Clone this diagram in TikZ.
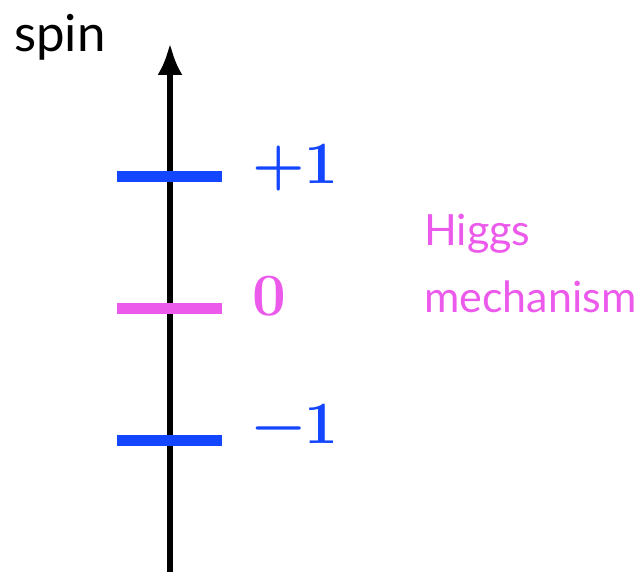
\documentclass[tikz,border=0pt]{standalone}
\usepackage{fontspec}
\newfontfamily\labfont{Lato}
\usetikzlibrary{arrows.meta}
\definecolor{spinblue}{RGB}{20,70,255}
\definecolor{higgspink}{RGB}{236,90,236}
\tikzset{
  bar/.style={line width=11pt},
  numlab/.style={anchor=base west, inner sep=0pt, font=\bfseries\fontsize{60}{60}\selectfont},
  sanslab/.style={anchor=base west, inner sep=0pt, text=#1},
  higgsfont/.style={font=\labfont\fontsize{43}{43}\selectfont},
}
\begin{document}
\begin{tikzpicture}[x=1pt,y=-1pt]
\useasboundingbox (0,0) rectangle (642,572);
% axis
\coordinate (bot) at (170,572);
\coordinate (top) at (170,43);
\draw[line width=6pt, -{Latex[length=32pt,width=25pt]}] (bot) -- (top);
\node[sanslab=black, font=\labfont\fontsize{51}{51}\selectfont] (spin) at (14,52) {spin};
% levels
\coordinate (p1l) at (117,177); \coordinate (p1r) at (222,177);
\coordinate (z0l) at (117,308); \coordinate (z0r) at (222,308);
\coordinate (m1l) at (117,440); \coordinate (m1r) at (222,440);
\draw[bar, spinblue] (p1l) -- (p1r);
\draw[bar, higgspink] (z0l) -- (z0r);
\draw[bar, spinblue] (m1l) -- (m1r);
\node[numlab, text=spinblue] (lp1) at (252,183) {+1};
\node[numlab, text=higgspink] (lz0) at (252,315) {0};
\node[numlab, text=spinblue] (lm1) at (252,443) {−1};
\node[sanslab=higgspink, higgsfont] (h1) at (424,245) {Higgs};
\node[sanslab=higgspink, higgsfont] (h2) at (424,312) {mechanism};
\end{tikzpicture}
\end{document}
